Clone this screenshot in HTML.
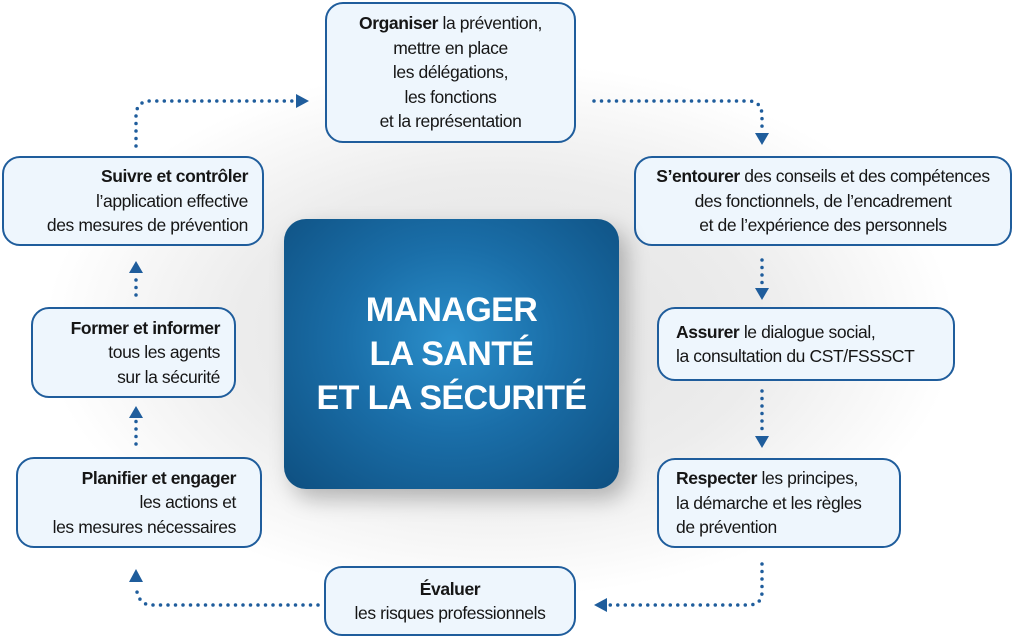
<!DOCTYPE html>
<html><head><meta charset="utf-8"><style>
html,body{margin:0;padding:0}
body{width:1024px;height:638px;position:relative;overflow:hidden;background:#fff;font-family:"Liberation Sans",sans-serif;color:#1a1a1a}
.bg{position:absolute;left:40px;top:60px;width:920px;height:540px;background:radial-gradient(ellipse at center,#e2e2e2 0%,#ececec 40%,rgba(255,255,255,0) 70%)}
.b{position:absolute;box-sizing:border-box;border:2px solid #1f5d9c;border-radius:18px;background:#eef6fd;font-size:17.5px;line-height:24.5px;letter-spacing:-0.4px;display:flex;flex-direction:column;justify-content:center;white-space:nowrap;color:#161616}
.b b{font-weight:bold}
.c{text-align:center}.r{text-align:right;padding-right:14px}.l{text-align:left;padding-left:20px}
.center{position:absolute;left:284px;top:219px;width:335px;height:270px;border-radius:22px;background:radial-gradient(ellipse at 50% 45%,#2b8fcb 0%,#1a6ea8 45%,#0e4f80 100%);box-shadow:8px 10px 22px rgba(0,0,0,0.25);color:#fff;font-weight:bold;font-size:34px;line-height:44px;text-align:center;display:flex;align-items:center;justify-content:center;letter-spacing:-0.6px}
svg{position:absolute;left:0;top:0}
</style></head><body>
<div class="bg"></div>
<svg width="1024" height="638">
<g fill="none" stroke="#1f5d9c" stroke-width="3.5" stroke-linecap="round" stroke-dasharray="0 7.5">
<path d="M136 146 V116 Q136 101 151 101 H292"/>
<path d="M594 101 H748 Q762 101 762 116 V132"/>
<path d="M762 260 V288"/>
<path d="M762 391 V436"/>
<path d="M762 564 V592 Q762 605 748 605 H606"/>
<path d="M318 605 H152 Q140 605 137 592 V585"/>
<path d="M136 444 V420"/>
<path d="M136 295 V273"/>
</g>
<g fill="#1f5d9c">
<polygon points="296,94 309,101 296,108"/>
<polygon points="755,133 769,133 762,145"/>
<polygon points="755,288 769,288 762,300"/>
<polygon points="755,436 769,436 762,448"/>
<polygon points="607,598 607,612 594,605"/>
<polygon points="129,582 143,582 136,569"/>
<polygon points="129,418 143,418 136,406"/>
<polygon points="129,273 143,273 136,261"/>
</g>
</svg>
<div class="b c" style="left:325px;top:2px;width:251px;height:141px"><div><b>Organiser</b> la prévention,<br>mettre en place<br>les délégations,<br>les fonctions<br>et la représentation</div></div>
<div class="b r" style="left:2px;top:156px;width:262px;height:90px"><div><b>Suivre et contrôler</b><br>l’application effective<br>des mesures de prévention</div></div>
<div class="b c" style="left:634px;top:156px;width:378px;height:90px"><div><b>S’entourer</b> des conseils et des compétences<br>des fonctionnels, de l’encadrement<br>et de l’expérience des personnels</div></div>
<div class="b r" style="left:31px;top:307px;width:205px;height:91px"><div><b>Former et informer</b><br>tous les agents<br>sur la sécurité</div></div>
<div class="b l" style="left:657px;top:307px;width:298px;height:74px;padding-left:17px"><div><b>Assurer</b> le dialogue social,<br>la consultation du CST/FSSSCT</div></div>
<div class="b r" style="left:16px;top:457px;width:246px;height:91px;padding-right:24px"><div><b>Planifier et engager</b><br>les actions et<br>les mesures nécessaires</div></div>
<div class="b l" style="left:657px;top:458px;width:244px;height:90px;padding-left:17px"><div><b>Respecter</b> les principes,<br>la démarche et les règles<br>de prévention</div></div>
<div class="b c" style="left:324px;top:566px;width:252px;height:70px"><div><b>Évaluer</b><br>les risques professionnels</div></div>
<div class="center"><div>MANAGER<br>LA SANTÉ<br>ET LA SÉCURITÉ</div></div>
</body></html>
